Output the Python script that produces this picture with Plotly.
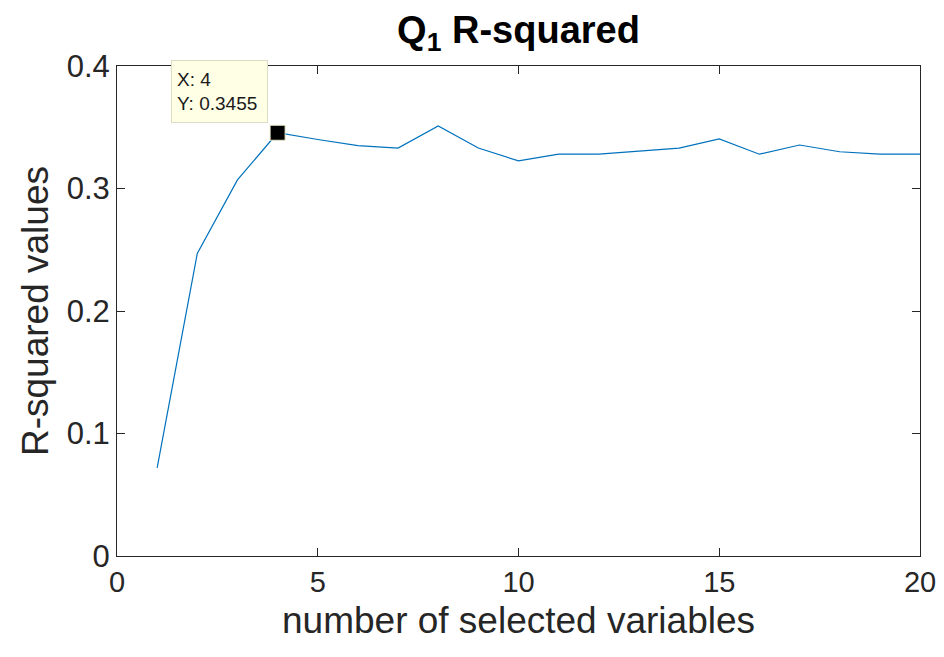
import plotly.graph_objects as go

x_vals = list(range(1, 21))
r_squared = [0.072, 0.247, 0.307, 0.3455, 0.340, 0.335, 0.333, 0.351, 0.333, 0.3225,
             0.328, 0.328, 0.3305, 0.333, 0.3405, 0.328, 0.3355, 0.330, 0.328, 0.328]
tip_x = 4
tip_y = 0.3455
x_ticks = [0, 5, 10, 15, 20]
y_ticks = [0, 0.1, 0.2, 0.3, 0.4]
y_tick_text = ["0", "0.1", "0.2", "0.3", "0.4"]

regular = "Liberation Sans, Arial, Helvetica, sans-serif"
axis_color = "#262626"

fig = go.Figure()
fig.add_trace(go.Scatter(x=x_vals, y=r_squared, mode="lines",
                         line=dict(color="#0072BD", width=1.2), showlegend=False))
fig.add_trace(go.Scatter(x=[tip_x], y=[tip_y], mode="markers",
                         marker=dict(symbol="square", size=15, color="black",
                                     line=dict(color="#e8e8c8", width=1)),
                         showlegend=False))

fig.add_annotation(x=tip_x, y=tip_y, xref="x", yref="y",
                   text=f"X: {tip_x}<br>Y: {tip_y}", showarrow=False,
                   xshift=-58, yshift=41, align="left", width=85, height=51,
                   bgcolor="#ffffe6", bordercolor="#dcdcc4", borderwidth=1, borderpad=5,
                   font=dict(family=regular, size=19, color="#1a1a1a"))

# axis titles
fig.add_annotation(x=0.5, y=0, xref="paper", yref="paper", xanchor="center", yanchor="middle",
                   yshift=-64, showarrow=False, text="number of selected variables",
                   font=dict(family=regular, size=37, color=axis_color))
fig.add_annotation(x=0, y=0.5, xref="paper", yref="paper", xanchor="center", yanchor="middle",
                   xshift=-82, showarrow=False, textangle=-90, text="R-squared values",
                   font=dict(family=regular, size=37, color=axis_color))

axis_common = dict(showline=True, linecolor=axis_color, linewidth=1, mirror="ticks",
                   ticks="inside", ticklen=8, tickcolor=axis_color, showgrid=False,
                   zeroline=False, ticklabeloverflow="allow",
                   tickfont=dict(family=regular, size=31, color=axis_color))

fig.update_xaxes(range=[0, 20], tickvals=x_ticks, **axis_common,
                 tickfont_size=29)
fig.update_yaxes(range=[0, 0.4], tickvals=y_ticks, ticktext=y_tick_text)
fig.update_yaxes(**axis_common)

fig.update_layout(
    width=944, height=649,
    margin=dict(l=109, r=32, t=58, b=101),
    paper_bgcolor="white", plot_bgcolor="white",
    title=dict(text="<b>Q<sub>1</sub> R-squared</b>", x=0.5, xanchor="center",
               xref="paper", y=0.967, yanchor="middle",
               font=dict(family=regular, size=38, color="black")),
)

fig.write_html("out.html")
